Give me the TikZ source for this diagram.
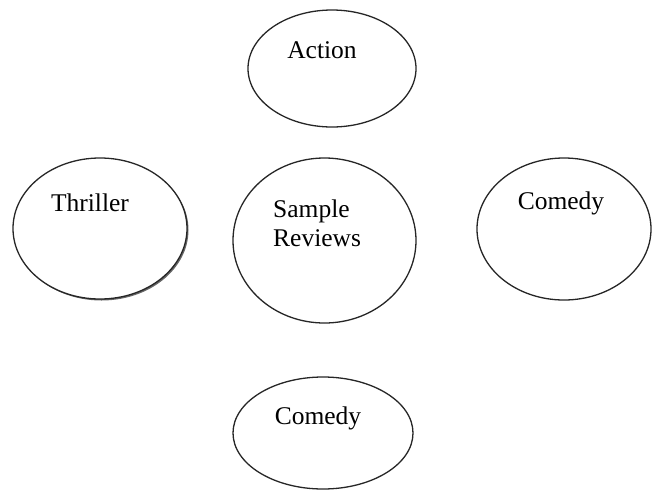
\documentclass[tikz,border=0pt]{standalone}
\usepackage{fontspec}
\setmainfont{Liberation Serif}
\usetikzlibrary{shapes.geometric, shadows}

\begin{document}
\begin{tikzpicture}[
    x=1pt, y=-1pt,
    oval/.style={ellipse, draw=black!85, line width=1.3pt, fill=white, inner sep=0pt},
    lbl/.style={font=\fontsize{25.5}{29}\selectfont, inner sep=0pt}
]
    \useasboundingbox (0,0) rectangle (659,491);

    % Ellipses
    \node[oval, minimum width=168pt, minimum height=117pt] (action) at (332,68.5) {};
    \node[oval, minimum width=174pt, minimum height=141pt,
          drop shadow={shadow xshift=1.5pt, shadow yshift=-1.5pt, opacity=0.6, fill=black}] (thriller) at (100,228.5) {};
    \node[oval, minimum width=183pt, minimum height=165pt] (sample) at (324.5,240.5) {};
    \node[oval, minimum width=174pt, minimum height=142pt] (comedyr) at (564,229) {};
    \node[oval, minimum width=180pt, minimum height=112pt] (comedyb) at (323,433) {};

    % Texts
    \node[lbl] (actiontxt) at (322,50) {Action};
    \node[lbl] (thrillertxt) at (90,203) {Thriller};
    \node[lbl, align=left, anchor=west] (sampletxt) at (273,223) {Sample\\Reviews};
    \node[lbl] (comedyrtxt) at (561,203) {Comedy};
    \node[lbl] (comedybtxt) at (318,418) {Comedy};

\end{tikzpicture}
\end{document}
